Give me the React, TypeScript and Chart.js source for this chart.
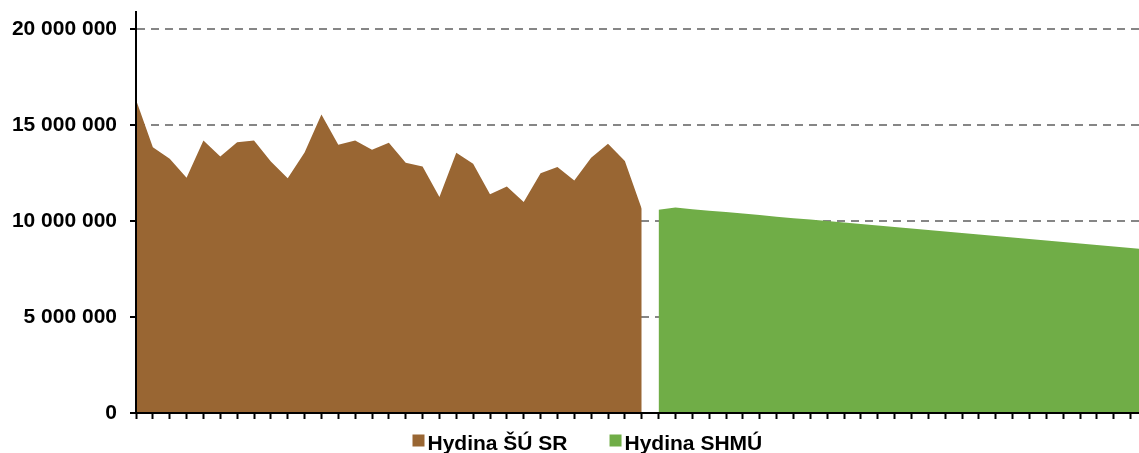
import React, { useEffect, useRef } from "react";
import { Chart, registerables } from "chart.js";

Chart.register(...registerables);

// ---- data ----
const suYears = [
  1990, 1991, 1992, 1993, 1994, 1995, 1996, 1997, 1998, 1999,
  2000, 2001, 2002, 2003, 2004, 2005, 2006, 2007, 2008, 2009,
  2010, 2011, 2012, 2013, 2014, 2015, 2016, 2017, 2018, 2019, 2020,
];
const suValues = [
  16300000, 13830000, 13230000, 12240000, 14180000, 13350000, 14090000, 14180000, 13090000, 12220000,
  13560000, 15530000, 13960000, 14180000, 13700000, 14060000, 13020000, 12830000, 11240000, 13540000,
  12970000, 11380000, 11790000, 10980000, 12480000, 12800000, 12100000, 13280000, 14010000, 13110000, 10630000,
];
const shmuYears = [
  2021, 2022, 2023, 2024, 2025, 2026, 2027, 2028, 2029, 2030,
  2031, 2032, 2033, 2034, 2035, 2036, 2037, 2038, 2039, 2040,
  2041, 2042, 2043, 2044, 2045, 2046, 2047, 2048, 2049, 2050,
];
const shmuValues = [
  10580000, 10690000, 10610000, 10530000, 10460000, 10380000, 10300000, 10220000, 10140000, 10070000,
  9990000, 9910000, 9830000, 9760000, 9680000, 9600000, 9520000, 9440000, 9370000, 9290000,
  9210000, 9130000, 9060000, 8980000, 8900000, 8820000, 8740000, 8670000, 8590000, 8510000,
];
const seriesLabels = ["Hydina ŠÚ SR", "Hydina SHMÚ"];
const seriesColors = ["#996633", "#70AD47"];
const yTickValues = [0, 5000000, 10000000, 15000000, 20000000];
const yMin = 0;
const yMax = 20870000;
const xMin = 1990;
const xMax = 2049.5;

const FONT = "'Liberation Sans', Arial, sans-serif";

const fmt = (v: number) => String(Math.round(v)).replace(/\B(?=(\d{3})+(?!\d))/g, " ");

const legendPlugin = {
  id: "customLegend",
  afterDraw(chart: any) {
    const ctx = chart.ctx as CanvasRenderingContext2D;
    ctx.save();
    ctx.font = `bold 21px ${FONT}`;
    ctx.textBaseline = "alphabetic";
    ctx.textAlign = "left";
    let x = 412.5;
    const boxTop = 434.5;
    const baseline = 450;
    chart.data.datasets.forEach((ds: any) => {
      ctx.fillStyle = ds.backgroundColor;
      ctx.fillRect(x, boxTop, 12, 12);
      ctx.fillStyle = "#000";
      ctx.fillText(ds.label, x + 15, baseline);
      const w = ctx.measureText(ds.label).width;
      x = x + 15 + w + 42;
    });
    ctx.restore();
  },
};

export default function App() {
  const ref = useRef<HTMLCanvasElement | null>(null);

  useEffect(() => {
    if (!ref.current) return;
    const chart = new Chart(ref.current, {
      type: "line",
      data: {
        datasets: [
          {
            label: seriesLabels[0],
            data: suYears.map((x, i) => ({ x, y: suValues[i] })),
            backgroundColor: seriesColors[0],
            borderColor: seriesColors[0],
            borderWidth: 0,
            pointRadius: 0,
            fill: "origin",
            tension: 0,
          },
          {
            label: seriesLabels[1],
            data: shmuYears.map((x, i) => ({ x, y: shmuValues[i] })),
            backgroundColor: seriesColors[1],
            borderColor: seriesColors[1],
            borderWidth: 0,
            pointRadius: 0,
            fill: "origin",
            tension: 0,
          },
        ],
      },
      options: {
        responsive: false,
        animation: false,
        layout: { padding: { top: 12, left: 0, right: 0, bottom: 0 } },
        plugins: {
          legend: { display: false },
          tooltip: { enabled: false },
        },
        scales: {
          x: {
            type: "linear",
            min: xMin,
            max: xMax,
            ticks: { display: false, stepSize: 1, includeBounds: false },
            grid: {
              drawOnChartArea: false,
              drawTicks: true,
              tickLength: 6,
              tickColor: "#000",
              tickWidth: 2,
            },
            border: { display: true, color: "#000", width: 2, z: 1 },
            afterFit: (s: any) => {
              s.height = 40;
              s.paddingLeft = 0;
              s.paddingRight = 0;
            },
          },
          y: {
            type: "linear",
            min: yMin,
            max: yMax,
            afterBuildTicks: (s: any) => {
              s.ticks = yTickValues.map((value) => ({ value }));
            },
            ticks: {
              padding: 13,
              color: "#000",
              font: { family: FONT, size: 21, weight: "bold" },
              callback: (v: any) => fmt(Number(v)),
            },
            grid: {
              color: "#868686",
              lineWidth: 2,
              drawTicks: true,
              tickLength: 6,
              tickColor: "#000",
              tickWidth: 2,
            },
            border: { display: true, color: "#000", width: 2, dash: [8, 6], z: 1 },
            afterFit: (s: any) => {
              s.width = 136;
              s.paddingTop = 0;
              s.paddingBottom = 0;
            },
          },
        },
      } as any,
      plugins: [legendPlugin],
    });
    return () => chart.destroy();
  }, []);

  return (
    <div style={{ width: 1139, height: 453, position: "absolute", left: 0, top: 0, background: "#fff" }}>
      <canvas ref={ref} width={1139} height={453} style={{ display: "block" }} />
    </div>
  );
}
